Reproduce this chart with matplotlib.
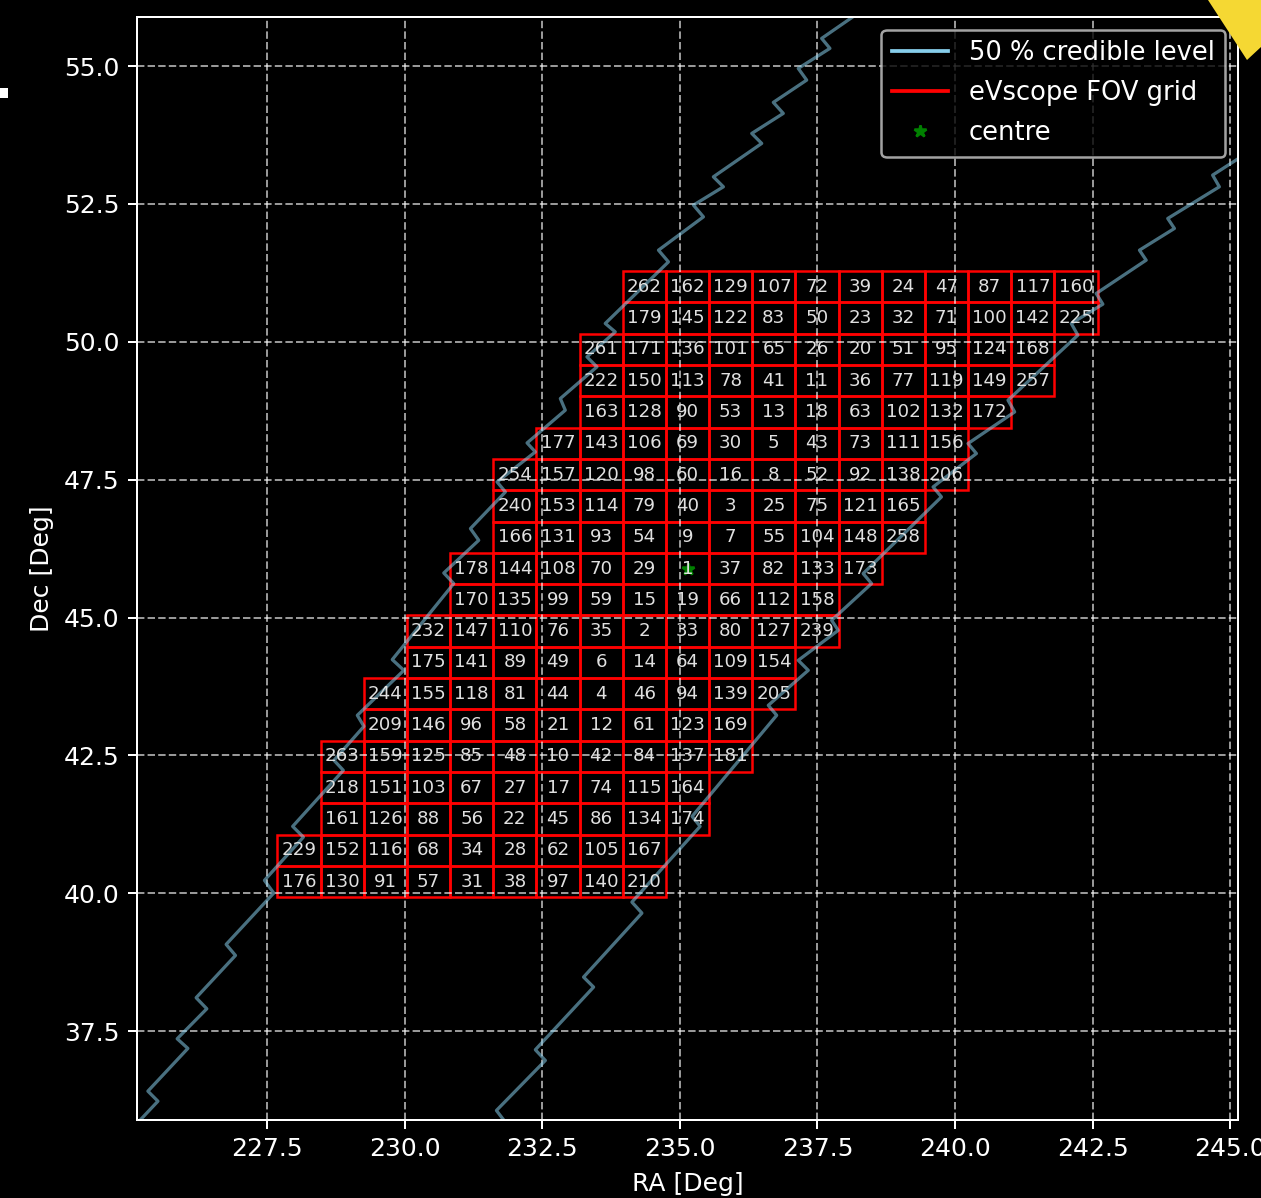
import numpy as np
import matplotlib.pyplot as plt
from matplotlib.patches import Rectangle, Polygon
from matplotlib.lines import Line2D

plt.style.use('dark_background')

# pointing centre and eVscope field of view, in degrees
ra_c, dec_c = 235.14, 45.89
fov_ra, fov_dec = 0.784, 0.568

# grid tiles: one list per row (top row first), with the row offset from
# the centre row and the column offset of the first tile in that row
row_offsets = list(range(9, -11, -1))
first_cols = [-1, -1, -2, -2, -2, -3, -4, -4, -4, -5,
              -5, -6, -6, -7, -7, -8, -8, -8, -9, -9]
tile_ids = [
    [262, 162, 129, 107, 72, 39, 24, 47, 87, 117, 160],
    [179, 145, 122, 83, 50, 23, 32, 71, 100, 142, 225],
    [261, 171, 136, 101, 65, 26, 20, 51, 95, 124, 168],
    [222, 150, 113, 78, 41, 11, 36, 77, 119, 149, 257],
    [163, 128, 90, 53, 13, 18, 63, 102, 132, 172],
    [177, 143, 106, 69, 30, 5, 43, 73, 111, 156],
    [254, 157, 120, 98, 60, 16, 8, 52, 92, 138, 206],
    [240, 153, 114, 79, 40, 3, 25, 75, 121, 165],
    [166, 131, 93, 54, 9, 7, 55, 104, 148, 258],
    [178, 144, 108, 70, 29, 1, 37, 82, 133, 173],
    [170, 135, 99, 59, 15, 19, 66, 112, 158],
    [232, 147, 110, 76, 35, 2, 33, 80, 127, 239],
    [175, 141, 89, 49, 6, 14, 64, 109, 154],
    [244, 155, 118, 81, 44, 4, 46, 94, 139, 205],
    [209, 146, 96, 58, 21, 12, 61, 123, 169],
    [263, 159, 125, 85, 48, 10, 42, 84, 137, 181],
    [218, 151, 103, 67, 27, 17, 74, 115, 164],
    [161, 126, 88, 56, 22, 45, 86, 134, 174],
    [229, 152, 116, 68, 34, 28, 62, 105, 167],
    [176, 130, 91, 57, 31, 38, 97, 140, 210],
]

# 50% credible region edges (staircase from the healpix pixels)
left_ra = [225.139, 225.520, 225.338, 226.064, 225.870, 226.408, 226.214,
           226.929, 226.759, 227.624, 227.455, 228.163, 227.968, 228.888,
           228.718, 229.262, 229.142, 229.987, 229.777, 230.894, 230.713,
           231.348, 231.197, 231.832, 231.681, 232.376, 232.226, 232.920,
           232.830, 233.495, 233.314, 233.827, 233.646, 234.794, 234.613,
           235.429, 235.248, 235.792, 235.610, 236.488, 236.307, 236.880,
           236.699, 237.305, 237.152, 237.727, 237.577, 238.453]
left_dec = [35.827, 36.231, 36.413, 37.188, 37.363, 37.907, 38.107,
            38.874, 39.074, 40.005, 40.235, 41.020, 41.214, 42.230,
            42.412, 43.028, 43.228, 44.044, 44.238, 45.617, 45.809,
            46.402, 46.614, 47.278, 47.460, 48.004, 48.167, 48.760,
            48.972, 49.546, 49.727, 50.181, 50.333, 51.450, 51.662,
            52.266, 52.479, 52.811, 52.992, 53.598, 53.779, 54.142,
            54.342, 54.746, 54.958, 55.321, 55.502, 56.106]
right_ra = [231.850, 231.669, 232.558, 232.376, 233.434, 233.252, 234.312,
            234.130, 235.369, 235.224, 236.760, 236.608, 237.334, 237.152,
            237.878, 237.758, 238.484, 238.331, 239.753, 239.601, 240.388,
            240.236, 241.083, 240.962, 242.231, 242.111, 242.685, 242.565,
            243.472, 243.350, 243.985, 243.864, 244.801, 244.679, 245.527]
right_dec = [35.827, 36.063, 36.970, 37.164, 38.300, 38.481, 39.642,
             39.841, 41.214, 41.396, 43.228, 43.409, 44.044, 44.225,
             44.769, 44.951, 45.617, 45.798, 47.188, 47.369, 47.975,
             48.156, 48.729, 48.942, 50.121, 50.333, 50.683, 50.877,
             51.481, 51.662, 52.056, 52.237, 52.811, 53.023, 53.567]

fig = plt.figure(figsize=(1261 / 180, 1198 / 180), dpi=180)
ax = fig.add_axes([137 / 1261, 78 / 1198, 1101 / 1261, 1103 / 1198])

ax.plot(left_ra, left_dec, color='skyblue', alpha=0.55, lw=1.3)
ax.plot(right_ra, right_dec, color='skyblue', alpha=0.55, lw=1.3)

# FOV grid with tile numbers
for row, c0, ids in zip(row_offsets, first_cols, tile_ids):
    for k, tid in enumerate(ids):
        ra = ra_c + (c0 + k) * fov_ra
        dec = dec_c + row * fov_dec
        ax.add_patch(Rectangle((ra - fov_ra / 2, dec - fov_dec / 2), fov_ra, fov_dec,
                               fill=False, edgecolor='red', lw=1.0))
        ax.text(ra, dec, str(tid), ha='center', va='center',
                fontsize=7.3, color='0.88')

ax.plot(ra_c, dec_c, '*', color='green', ms=5)

ax.set_xlim(ra_c - 10, ra_c + 10)
ax.set_ylim(dec_c - 10, dec_c + 10)
ax.set_xticks(np.arange(227.5, 245.1, 2.5))
ax.set_yticks(np.arange(37.5, 55.1, 2.5))
ax.grid(True, ls='--', color='white', alpha=0.6, lw=0.8)
ax.set_xlabel('RA [Deg]')
ax.set_ylabel('Dec [Deg]')

handles = [Line2D([], [], color='skyblue', lw=1.5, label='50 % credible level'),
           Line2D([], [], color='red', lw=1.5, label='eVscope FOV grid'),
           Line2D([], [], marker='*', ls='', color='green', ms=5, label='centre')]
ax.legend(handles=handles, loc='upper right', fontsize=10.3,
          handlelength=2.2, labelspacing=0.55)

# slide decorations around the figure
fig.patches.append(Polygon([(1208 / 1261, 1.0), (1247 / 1261, 1 - 60 / 1198),
                            (1.0, 1 - 47 / 1198), (1.0, 1.0)],
                           closed=True, transform=fig.transFigure,
                           facecolor='#f5d833', edgecolor='none'))
fig.patches.append(Rectangle((0, 1 - 98 / 1198), 8 / 1261, 10 / 1198,
                             transform=fig.transFigure, facecolor='white',
                             edgecolor='none'))

fig.savefig('out.png', dpi=180)
